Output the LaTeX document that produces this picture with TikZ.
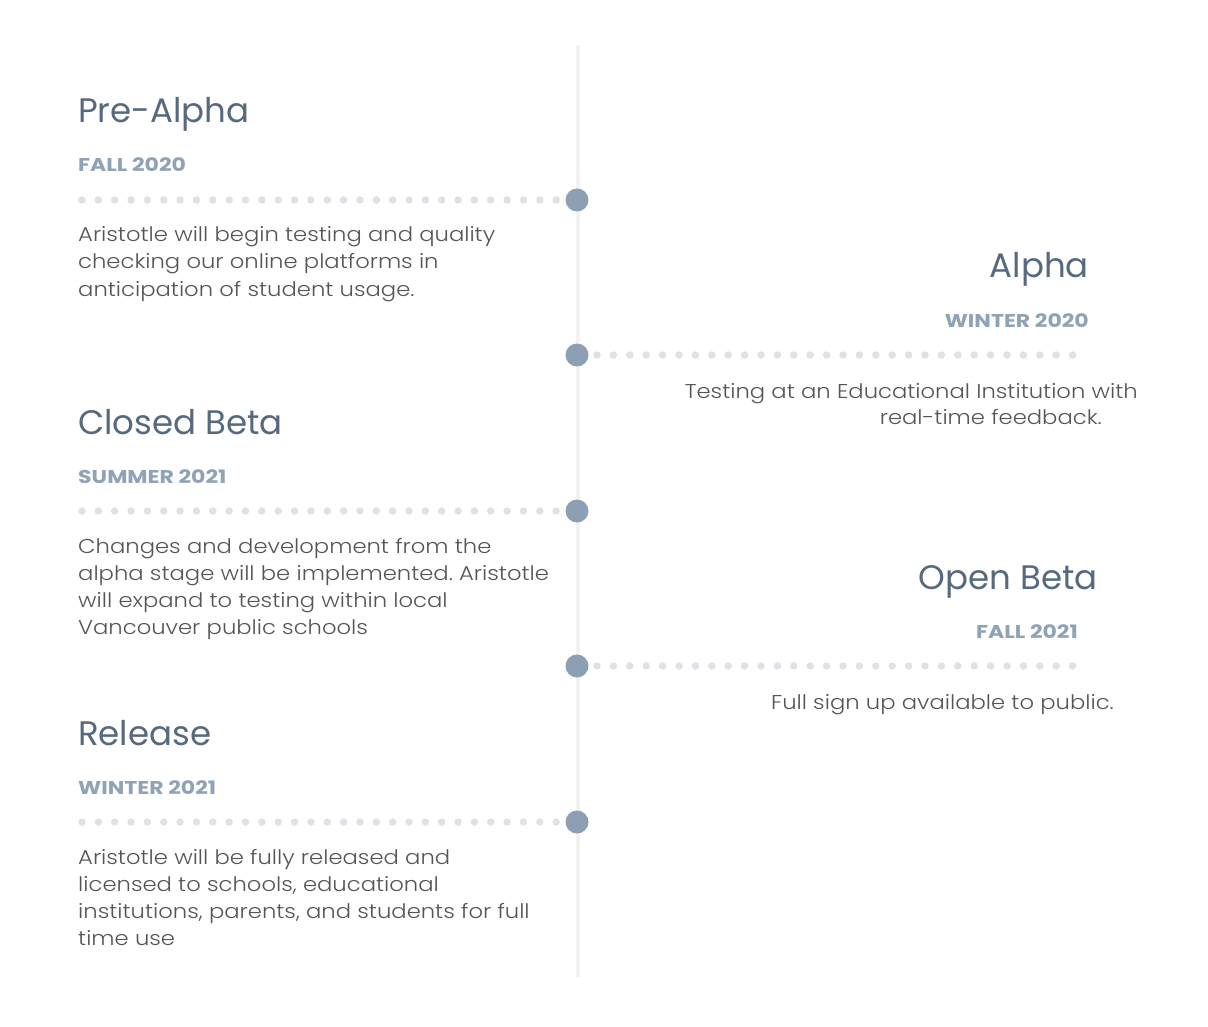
\documentclass[tikz,border=0pt]{standalone}
\usepackage{fontspec}
\setmainfont{Poppins}
\IfFontExistsTF{Poppins Light}
  {\newfontfamily\bodyfont[FakeStretch=1.135]{Poppins Light}}
  {\newfontfamily\bodyfont[FakeStretch=1.135]{Poppins}}
\newfontfamily\datefont[FakeStretch=1.19]{Poppins}
\frenchspacing
\definecolor{titlec}{HTML}{56697F}
\definecolor{datec}{HTML}{8FA2B6}
\definecolor{bodyc}{HTML}{555555}
\definecolor{dotc}{HTML}{DDE2E9}
\definecolor{bigdotc}{HTML}{8D9FB3}
\definecolor{linec}{HTML}{F2F2F2}
\tikzset{
  ttl/.style={inner sep=0pt, text=titlec, font=\fontsize{34}{40}\selectfont},
  dte/.style={inner sep=0pt, text=datec, font=\datefont\bfseries\fontsize{18.5}{22}\selectfont},
  bdy/.style={inner sep=0pt, text=bodyc, font=\bodyfont\fontsize{20}{27}\selectfont},
  smalldot/.style={circle, fill=dotc, inner sep=0pt, minimum size=7.5pt},
  bigdot/.style={circle, fill=bigdotc, inner sep=0pt, minimum size=23pt},
}
\begin{document}
\begin{tikzpicture}[x=1pt,y=-1pt]
\useasboundingbox (0,0) rectangle (1208,1027);
\fill[white] (0,0) rectangle (1208,1027);
\coordinate (ltop) at (578,45);
\coordinate (lbot) at (578,977);
\draw[linec, line width=3.5pt] (ltop) -- (lbot);
% left dotted rows
\foreach \D/\n in {200/a,511/c,822/e}{
  \foreach \i in {0,...,29}{
    \node[smalldot] (s\n\i) at ({82+16.35*\i},\D) {};
  }
  \node[bigdot] (b\n) at (577,\D) {};
}
% right dotted rows
\foreach \D/\n in {355/b,666/d}{
  \foreach \i in {0,...,29}{
    \node[smalldot] (s\n\i) at ({597+16.4*\i},\D) {};
  }
  \node[bigdot] (b\n) at (577,\D) {};
}
% Pre-Alpha
\node[ttl, anchor=base west] (t1) at (78,123) {Pre-Alpha};
\node[dte, anchor=base west] (d1) at (78,172) {FALL 2020};
\node[bdy, anchor=base west] (p1a) at (78,242) {Aristotle will begin testing and quality};
\node[bdy, anchor=base west] (p1b) at (78,269) {checking our online platforms in};
\node[bdy, anchor=base west] (p1c) at (78,296) {anticipation of student usage.};
% Alpha
\node[ttl, anchor=base east] (t2) at (1089,278) {Alpha};
\node[dte, anchor=base east] (d2) at (1089,327) {WINTER 2020};
\node[bdy, anchor=base east] (p2a) at (1138,398) {Testing at an Educational Institution with};
\node[bdy, anchor=base east] (p2b) at (1102,424) {real-time feedback.};
% Closed Beta
\node[ttl, anchor=base west] (t3) at (78,434) {Closed Beta};
\node[dte, anchor=base west] (d3) at (78,483) {SUMMER 2021};
\node[bdy, anchor=base west] (p3a) at (78,553) {Changes and development from the};
\node[bdy, anchor=base west] (p3b) at (78,580) {alpha stage will be implemented. Aristotle};
\node[bdy, anchor=base west] (p3c) at (78,607) {will expand to testing within local};
\node[bdy, anchor=base west] (p3d) at (78,634) {Vancouver public schools};
% Open Beta
\node[ttl, anchor=base east] (t4) at (1098,589) {Open Beta};
\node[dte, anchor=base east] (d4) at (1078,638) {FALL 2021};
\node[bdy, anchor=base east] (p4a) at (1114,709) {Full sign up available to public.};
% Release
\node[ttl, anchor=base west] (t5) at (78,745) {Release};
\node[dte, anchor=base west] (d5) at (78,794) {WINTER 2021};
\node[bdy, anchor=base west] (p5a) at (78,864) {Aristotle will be fully released and};
\node[bdy, anchor=base west] (p5b) at (78,891) {licensed to schools, educational};
\node[bdy, anchor=base west] (p5c) at (78,918) {institutions, parents, and students for full};
\node[bdy, anchor=base west] (p5d) at (78,945) {time use};
\end{tikzpicture}
\end{document}
